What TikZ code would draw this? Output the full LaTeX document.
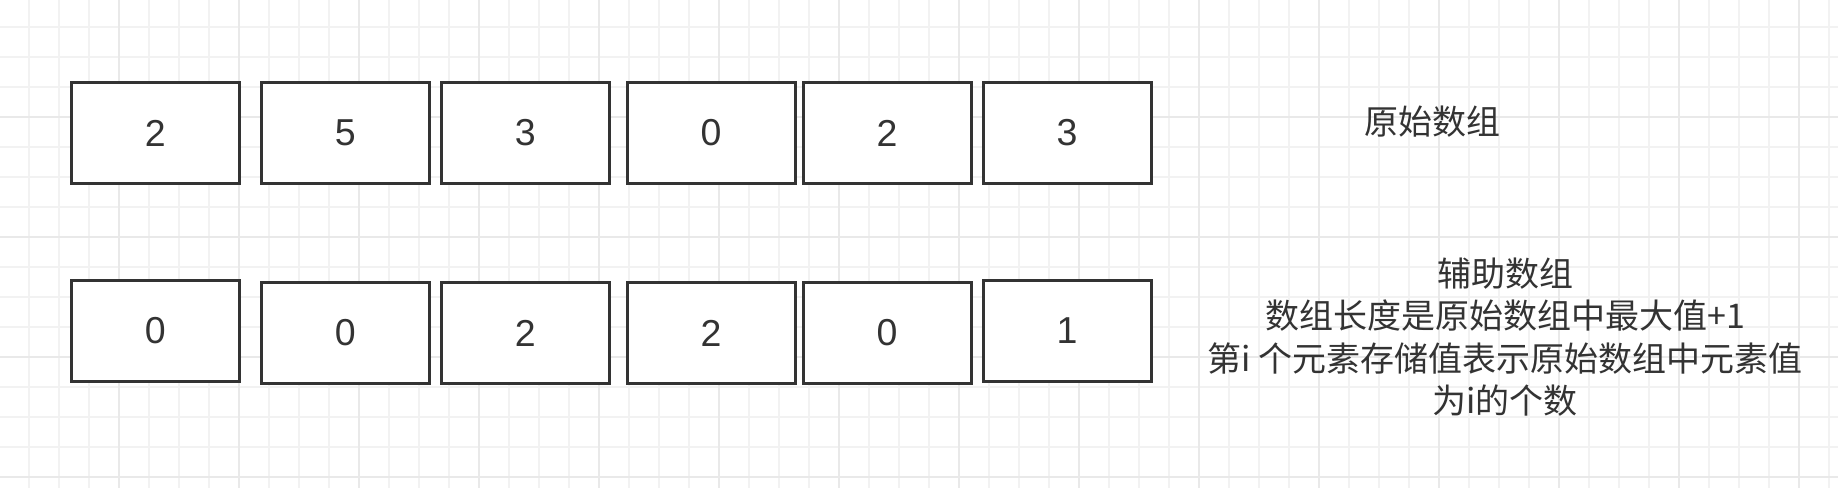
\documentclass[tikz,border=0pt]{standalone}
\usepackage{fontspec}
\setmainfont{Liberation Sans}
\newfontfamily\cjk{Noto Sans CJK SC}
\definecolor{ink}{HTML}{333333}
\definecolor{gridminor}{HTML}{F2F2F2}
\definecolor{gridmajor}{HTML}{E9E9E9}
\begin{document}
\begin{tikzpicture}[x=1pt,y=-1pt,
  minorline/.style={draw=gridminor,line width=1.3pt},
  majorline/.style={draw=gridmajor,line width=2pt},
  cell/.style={draw=ink,line width=3pt,fill=white,minimum width=168pt,minimum height=101pt,inner sep=0pt,text=ink,font=\fontsize{37.5}{40}\selectfont},
  label/.style={text=ink,align=center,inner sep=0pt,font=\cjk\fontsize{34}{42.5}\selectfont}]
\useasboundingbox (0,0) rectangle (1838,488);
\fill[white] (0,0) rectangle (1838,488);
% grid
\foreach \x in {29,59,...,1838} \draw[minorline] (\x,0) -- (\x,488);
\foreach \y in {27,57,...,488} \draw[minorline] (0,\y) -- (1838,\y);
\foreach \x in {119,239,...,1838} \draw[majorline] (\x,0) -- (\x,488);
\foreach \y in {117,237,357,477} \draw[majorline] (0,\y) -- (1838,\y);
% original array
\node[cell] (o1) at (155.3,133) {2};
\node[cell] (o2) at (345.3,133) {5};
\node[cell] (o3) at (525.3,133) {3};
\node[cell] (o4) at (711,133) {0};
\node[cell] (o5) at (887,133) {2};
\node[cell] (o6) at (1067,133) {3};
% auxiliary array
\node[cell] (a1) at (155.3,330.7) {0};
\node[cell] (a2) at (345.3,333) {0};
\node[cell] (a3) at (525.3,333) {2};
\node[cell] (a4) at (711,333) {2};
\node[cell] (a5) at (887,333) {0};
\node[cell] (a6) at (1067,331) {1};
% labels
\node[label] (lo) at (1432.6,121.7) {原始数组};
\node[label] (la) at (1505,337) {辅助数组\\数组长度是原始数组中最大值+1\\第i 个元素存储值表示原始数组中元素值\\为i的个数};
\end{tikzpicture}
\end{document}
